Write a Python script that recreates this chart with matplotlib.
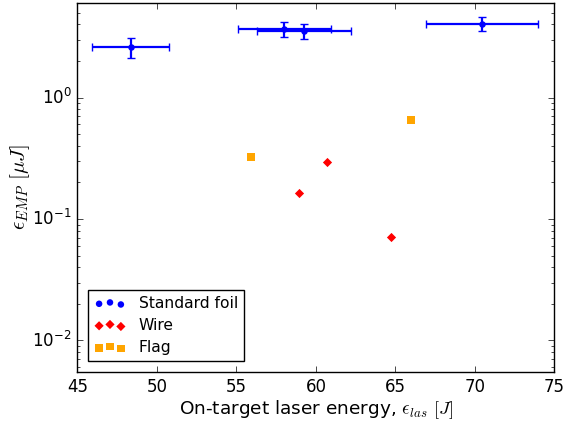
import matplotlib
matplotlib.use("Agg")
import matplotlib.pyplot as plt

plt.style.use('classic')

# Data
foil_x = [48.35, 58.02, 59.26, 70.43]
foil_y = [2.61, 3.67, 3.55, 4.06]
foil_xerr = [2.42, 2.90, 2.96, 3.52]
foil_yerr = [0.5, 0.5, 0.5, 0.5]

wire_x = [58.94, 60.72, 64.71]
wire_y = [0.164, 0.294, 0.0707]

flag_x = [55.94, 65.97]
flag_y = [0.326, 0.656]

fig = plt.figure(figsize=(5.74, 4.21), dpi=100, facecolor='white')
ax = fig.add_axes([0.1347, 0.1164, 0.8313, 0.8765])
ax.set_facecolor('white')

ax.errorbar(foil_x, foil_y, xerr=foil_xerr, yerr=foil_yerr, fmt='none',
            ecolor='b', elinewidth=1.6, capsize=3, capthick=1)
ax.scatter(foil_x, foil_y, s=22, c='b', marker='o', linewidths=0, label='Standard foil', zorder=3)
ax.scatter(wire_x, wire_y, s=22, c='r', marker='D', linewidths=0, label='Wire', zorder=3)
ax.scatter(flag_x, flag_y, s=30, c='orange', marker='s', linewidths=0, label='Flag', zorder=3)

ax.set_yscale('log')
ax.set_xlim(45, 75)
ax.set_ylim(0.0055, 6.0)

ax.set_xlabel(r'On-target laser energy, $\epsilon_{las}$ $[J]$', fontsize=13.3, labelpad=2)
ax.set_ylabel(r'$\epsilon_{EMP}$ $[\mu J]$', fontsize=15, labelpad=0)
ax.tick_params(labelsize=12)

leg = ax.legend(loc='lower left', scatterpoints=3, fontsize=11.2, frameon=True,
                borderaxespad=0.7, labelspacing=0.45, handletextpad=0.85)

fig.savefig('out.png', dpi=100, facecolor='white')
